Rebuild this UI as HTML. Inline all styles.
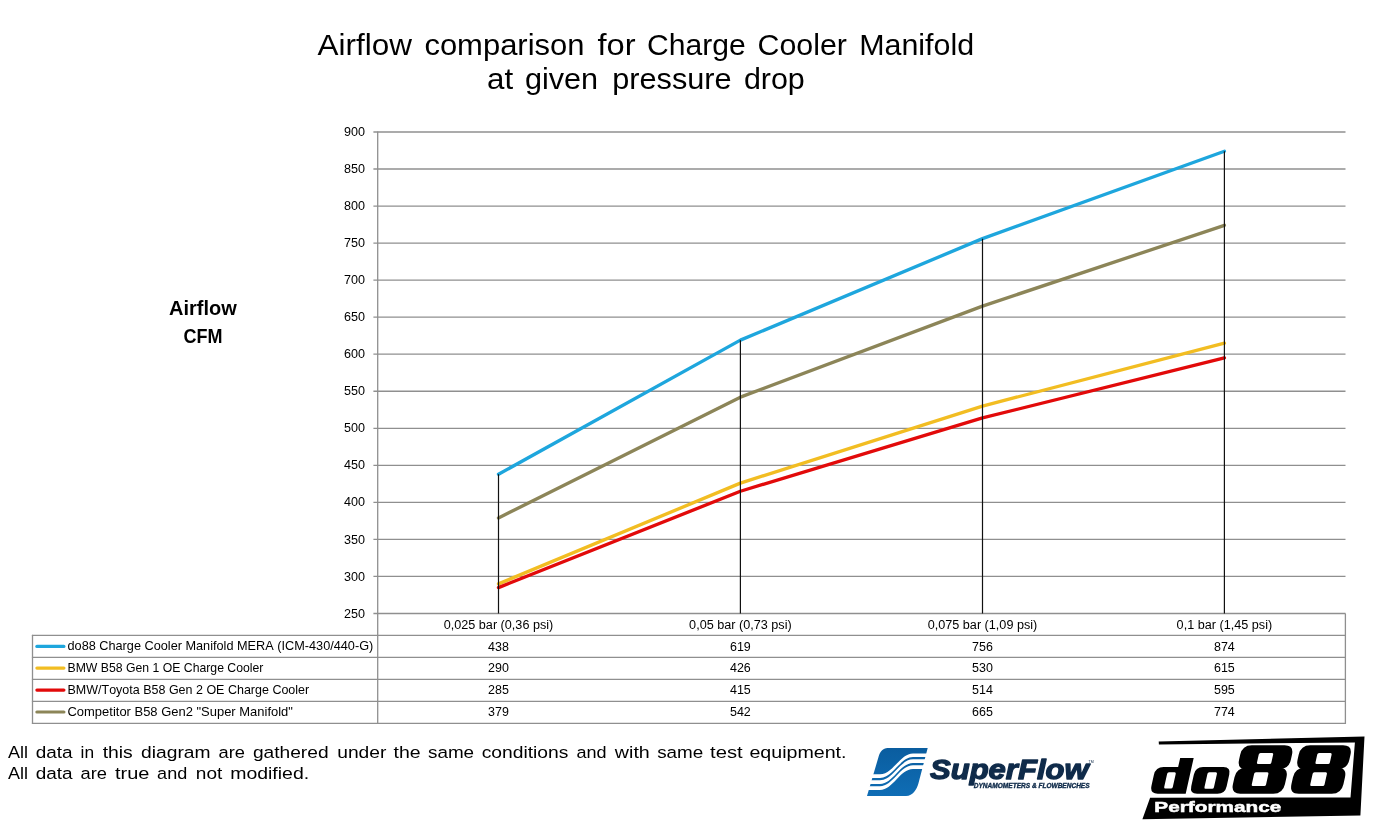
<!DOCTYPE html><html><head><meta charset="utf-8"><title>Airflow comparison</title><style>html,body{margin:0;padding:0;background:#fff;width:1382px;height:826px;overflow:hidden}svg{position:absolute;left:0;top:0;display:block;will-change:transform}text{font-family:"Liberation Sans",sans-serif;font-kerning:none;white-space:pre}</style></head><body>
<svg width="1382" height="826" viewBox="0 0 1382 826">
<text x="317.60" y="54.50" font-size="30" font-weight="normal" font-style="normal" fill="#000" textLength="94.42" lengthAdjust="spacingAndGlyphs" >Airflow</text>
<text x="424.40" y="54.50" font-size="30" font-weight="normal" font-style="normal" fill="#000" textLength="160.10" lengthAdjust="spacingAndGlyphs" >comparison</text>
<text x="597.50" y="54.50" font-size="30" font-weight="normal" font-style="normal" fill="#000" textLength="38.10" lengthAdjust="spacingAndGlyphs" >for</text>
<text x="647.10" y="54.50" font-size="30" font-weight="normal" font-style="normal" fill="#000" textLength="98.69" lengthAdjust="spacingAndGlyphs" >Charge</text>
<text x="757.50" y="54.50" font-size="30" font-weight="normal" font-style="normal" fill="#000" textLength="89.39" lengthAdjust="spacingAndGlyphs" >Cooler</text>
<text x="859.20" y="54.50" font-size="30" font-weight="normal" font-style="normal" fill="#000" textLength="114.99" lengthAdjust="spacingAndGlyphs" >Manifold</text>
<text x="487.10" y="88.90" font-size="30" font-weight="normal" font-style="normal" fill="#000" textLength="26.10" lengthAdjust="spacingAndGlyphs" >at</text>
<text x="524.90" y="88.90" font-size="30" font-weight="normal" font-style="normal" fill="#000" textLength="73.19" lengthAdjust="spacingAndGlyphs" >given</text>
<text x="612.20" y="88.90" font-size="30" font-weight="normal" font-style="normal" fill="#000" textLength="119.39" lengthAdjust="spacingAndGlyphs" >pressure</text>
<text x="743.90" y="88.90" font-size="30" font-weight="normal" font-style="normal" fill="#000" textLength="60.91" lengthAdjust="spacingAndGlyphs" >drop</text>
<text x="169.10" y="314.80" font-size="20.3" font-weight="bold" font-style="normal" fill="#000" textLength="67.75" lengthAdjust="spacingAndGlyphs" >Airflow</text>
<text x="183.50" y="342.60" font-size="20.3" font-weight="bold" font-style="normal" fill="#000" textLength="39.00" lengthAdjust="spacingAndGlyphs" >CFM</text>
<line x1="373.4" y1="613.50" x2="1345.5" y2="613.50" stroke="#8f8f8f" stroke-width="1.3"/>
<line x1="373.4" y1="576.46" x2="1345.5" y2="576.46" stroke="#8f8f8f" stroke-width="1.3"/>
<line x1="373.4" y1="539.42" x2="1345.5" y2="539.42" stroke="#8f8f8f" stroke-width="1.3"/>
<line x1="373.4" y1="502.38" x2="1345.5" y2="502.38" stroke="#8f8f8f" stroke-width="1.3"/>
<line x1="373.4" y1="465.34" x2="1345.5" y2="465.34" stroke="#8f8f8f" stroke-width="1.3"/>
<line x1="373.4" y1="428.30" x2="1345.5" y2="428.30" stroke="#8f8f8f" stroke-width="1.3"/>
<line x1="373.4" y1="391.26" x2="1345.5" y2="391.26" stroke="#8f8f8f" stroke-width="1.3"/>
<line x1="373.4" y1="354.22" x2="1345.5" y2="354.22" stroke="#8f8f8f" stroke-width="1.3"/>
<line x1="373.4" y1="317.18" x2="1345.5" y2="317.18" stroke="#8f8f8f" stroke-width="1.3"/>
<line x1="373.4" y1="280.14" x2="1345.5" y2="280.14" stroke="#8f8f8f" stroke-width="1.3"/>
<line x1="373.4" y1="243.10" x2="1345.5" y2="243.10" stroke="#8f8f8f" stroke-width="1.3"/>
<line x1="373.4" y1="206.06" x2="1345.5" y2="206.06" stroke="#8f8f8f" stroke-width="1.3"/>
<line x1="373.4" y1="169.02" x2="1345.5" y2="169.02" stroke="#8f8f8f" stroke-width="1.3"/>
<line x1="373.4" y1="131.98" x2="1345.5" y2="131.98" stroke="#8f8f8f" stroke-width="1.3"/>
<text x="344.00" y="617.60" font-size="12.5" font-weight="normal" font-style="normal" fill="#000" textLength="21.01" lengthAdjust="spacingAndGlyphs" >250</text>
<text x="344.00" y="580.56" font-size="12.5" font-weight="normal" font-style="normal" fill="#000" textLength="21.01" lengthAdjust="spacingAndGlyphs" >300</text>
<text x="344.00" y="543.52" font-size="12.5" font-weight="normal" font-style="normal" fill="#000" textLength="21.01" lengthAdjust="spacingAndGlyphs" >350</text>
<text x="344.00" y="506.48" font-size="12.5" font-weight="normal" font-style="normal" fill="#000" textLength="21.01" lengthAdjust="spacingAndGlyphs" >400</text>
<text x="344.00" y="469.44" font-size="12.5" font-weight="normal" font-style="normal" fill="#000" textLength="21.01" lengthAdjust="spacingAndGlyphs" >450</text>
<text x="344.00" y="432.40" font-size="12.5" font-weight="normal" font-style="normal" fill="#000" textLength="21.01" lengthAdjust="spacingAndGlyphs" >500</text>
<text x="344.00" y="395.36" font-size="12.5" font-weight="normal" font-style="normal" fill="#000" textLength="21.01" lengthAdjust="spacingAndGlyphs" >550</text>
<text x="344.00" y="358.32" font-size="12.5" font-weight="normal" font-style="normal" fill="#000" textLength="21.01" lengthAdjust="spacingAndGlyphs" >600</text>
<text x="344.00" y="321.28" font-size="12.5" font-weight="normal" font-style="normal" fill="#000" textLength="21.01" lengthAdjust="spacingAndGlyphs" >650</text>
<text x="344.00" y="284.24" font-size="12.5" font-weight="normal" font-style="normal" fill="#000" textLength="21.01" lengthAdjust="spacingAndGlyphs" >700</text>
<text x="344.00" y="247.20" font-size="12.5" font-weight="normal" font-style="normal" fill="#000" textLength="21.01" lengthAdjust="spacingAndGlyphs" >750</text>
<text x="344.00" y="210.16" font-size="12.5" font-weight="normal" font-style="normal" fill="#000" textLength="21.01" lengthAdjust="spacingAndGlyphs" >800</text>
<text x="344.00" y="173.12" font-size="12.5" font-weight="normal" font-style="normal" fill="#000" textLength="21.01" lengthAdjust="spacingAndGlyphs" >850</text>
<text x="344.00" y="136.08" font-size="12.5" font-weight="normal" font-style="normal" fill="#000" textLength="21.01" lengthAdjust="spacingAndGlyphs" >900</text>
<line x1="31.9" y1="635.45" x2="1346.0" y2="635.45" stroke="#8f8f8f" stroke-width="1.3"/>
<line x1="31.9" y1="657.4" x2="1346.0" y2="657.4" stroke="#8f8f8f" stroke-width="1.3"/>
<line x1="31.9" y1="679.4" x2="1346.0" y2="679.4" stroke="#8f8f8f" stroke-width="1.3"/>
<line x1="31.9" y1="701.35" x2="1346.0" y2="701.35" stroke="#8f8f8f" stroke-width="1.3"/>
<line x1="31.9" y1="723.3" x2="1346.0" y2="723.3" stroke="#8f8f8f" stroke-width="1.3"/>
<line x1="32.5" y1="634.85" x2="32.5" y2="723.9" stroke="#8f8f8f" stroke-width="1.3"/>
<line x1="377.7" y1="131.5" x2="377.7" y2="723.9" stroke="#8f8f8f" stroke-width="1.3"/>
<line x1="1345.4" y1="613.5" x2="1345.4" y2="723.9" stroke="#8f8f8f" stroke-width="1.3"/>
<polyline points="498.50,474.23 740.40,340.14 982.50,238.66 1224.40,151.24" fill="none" stroke="#1ea6dd" stroke-width="3.35" stroke-linejoin="round" stroke-linecap="round"/>
<polyline points="498.50,583.87 740.40,483.12 982.50,406.08 1224.40,343.11" fill="none" stroke="#f2bd22" stroke-width="3.35" stroke-linejoin="round" stroke-linecap="round"/>
<polyline points="498.50,587.57 740.40,491.27 982.50,417.93 1224.40,357.92" fill="none" stroke="#e20a0a" stroke-width="3.35" stroke-linejoin="round" stroke-linecap="round"/>
<polyline points="498.50,517.94 740.40,397.19 982.50,306.07 1224.40,225.32" fill="none" stroke="#8c8558" stroke-width="3.35" stroke-linejoin="round" stroke-linecap="round"/>
<line x1="498.5" y1="474.23" x2="498.5" y2="613.5" stroke="#111" stroke-width="1.2"/>
<line x1="740.4" y1="340.14" x2="740.4" y2="613.5" stroke="#111" stroke-width="1.2"/>
<line x1="982.5" y1="238.66" x2="982.5" y2="613.5" stroke="#111" stroke-width="1.2"/>
<line x1="1224.4" y1="151.24" x2="1224.4" y2="613.5" stroke="#111" stroke-width="1.2"/>
<text x="443.70" y="628.60" font-size="12" font-weight="normal" font-style="normal" fill="#000" textLength="109.60" lengthAdjust="spacingAndGlyphs" >0,025 bar (0,36 psi)</text>
<text x="689.11" y="628.60" font-size="12" font-weight="normal" font-style="normal" fill="#000" textLength="102.57" lengthAdjust="spacingAndGlyphs" >0,05 bar (0,73 psi)</text>
<text x="927.70" y="628.60" font-size="12" font-weight="normal" font-style="normal" fill="#000" textLength="109.60" lengthAdjust="spacingAndGlyphs" >0,075 bar (1,09 psi)</text>
<text x="1176.63" y="628.60" font-size="12" font-weight="normal" font-style="normal" fill="#000" textLength="95.54" lengthAdjust="spacingAndGlyphs" >0,1 bar (1,45 psi)</text>
<line x1="36.9" y1="646.45" x2="63.9" y2="646.45" stroke="#1ea6dd" stroke-width="3.2" stroke-linecap="round"/>
<text x="67.50" y="650.10" font-size="12.8" font-weight="normal" font-style="normal" fill="#000" textLength="305.80" lengthAdjust="spacingAndGlyphs" >do88 Charge Cooler Manifold MERA (ICM-430/440-G)</text>
<text x="488.10" y="650.65" font-size="12.3" font-weight="normal" font-style="normal" fill="#000" textLength="20.81" lengthAdjust="spacingAndGlyphs" >438</text>
<text x="730.00" y="650.65" font-size="12.3" font-weight="normal" font-style="normal" fill="#000" textLength="20.81" lengthAdjust="spacingAndGlyphs" >619</text>
<text x="972.10" y="650.65" font-size="12.3" font-weight="normal" font-style="normal" fill="#000" textLength="20.81" lengthAdjust="spacingAndGlyphs" >756</text>
<text x="1214.00" y="650.65" font-size="12.3" font-weight="normal" font-style="normal" fill="#000" textLength="20.81" lengthAdjust="spacingAndGlyphs" >874</text>
<line x1="36.9" y1="668.05" x2="63.9" y2="668.05" stroke="#f2bd22" stroke-width="3.2" stroke-linecap="round"/>
<text x="67.50" y="671.80" font-size="12.8" font-weight="normal" font-style="normal" fill="#000" textLength="195.90" lengthAdjust="spacingAndGlyphs" >BMW B58 Gen 1 OE Charge Cooler</text>
<text x="488.10" y="672.45" font-size="12.3" font-weight="normal" font-style="normal" fill="#000" textLength="20.81" lengthAdjust="spacingAndGlyphs" >290</text>
<text x="730.00" y="672.45" font-size="12.3" font-weight="normal" font-style="normal" fill="#000" textLength="20.81" lengthAdjust="spacingAndGlyphs" >426</text>
<text x="972.10" y="672.45" font-size="12.3" font-weight="normal" font-style="normal" fill="#000" textLength="20.81" lengthAdjust="spacingAndGlyphs" >530</text>
<text x="1214.00" y="672.45" font-size="12.3" font-weight="normal" font-style="normal" fill="#000" textLength="20.81" lengthAdjust="spacingAndGlyphs" >615</text>
<line x1="36.9" y1="690.10" x2="63.9" y2="690.10" stroke="#e20a0a" stroke-width="3.2" stroke-linecap="round"/>
<text x="67.50" y="693.80" font-size="12.8" font-weight="normal" font-style="normal" fill="#000" textLength="241.70" lengthAdjust="spacingAndGlyphs" >BMW/Toyota B58 Gen 2 OE Charge Cooler</text>
<text x="488.10" y="694.35" font-size="12.3" font-weight="normal" font-style="normal" fill="#000" textLength="20.81" lengthAdjust="spacingAndGlyphs" >285</text>
<text x="730.00" y="694.35" font-size="12.3" font-weight="normal" font-style="normal" fill="#000" textLength="20.81" lengthAdjust="spacingAndGlyphs" >415</text>
<text x="972.10" y="694.35" font-size="12.3" font-weight="normal" font-style="normal" fill="#000" textLength="20.81" lengthAdjust="spacingAndGlyphs" >514</text>
<text x="1214.00" y="694.35" font-size="12.3" font-weight="normal" font-style="normal" fill="#000" textLength="20.81" lengthAdjust="spacingAndGlyphs" >595</text>
<line x1="36.9" y1="712.00" x2="63.9" y2="712.00" stroke="#8c8558" stroke-width="3.2" stroke-linecap="round"/>
<text x="67.50" y="715.70" font-size="12.8" font-weight="normal" font-style="normal" fill="#000" textLength="225.40" lengthAdjust="spacingAndGlyphs" >Competitor B58 Gen2 &quot;Super Manifold&quot;</text>
<text x="488.10" y="716.25" font-size="12.3" font-weight="normal" font-style="normal" fill="#000" textLength="20.81" lengthAdjust="spacingAndGlyphs" >379</text>
<text x="730.00" y="716.25" font-size="12.3" font-weight="normal" font-style="normal" fill="#000" textLength="20.81" lengthAdjust="spacingAndGlyphs" >542</text>
<text x="972.10" y="716.25" font-size="12.3" font-weight="normal" font-style="normal" fill="#000" textLength="20.81" lengthAdjust="spacingAndGlyphs" >665</text>
<text x="1214.00" y="716.25" font-size="12.3" font-weight="normal" font-style="normal" fill="#000" textLength="20.81" lengthAdjust="spacingAndGlyphs" >774</text>
<text x="8.00" y="757.90" font-size="17.4" font-weight="normal" font-style="normal" fill="#000" textLength="20.01" lengthAdjust="spacingAndGlyphs" >All</text>
<text x="35.70" y="757.90" font-size="17.4" font-weight="normal" font-style="normal" fill="#000" textLength="36.89" lengthAdjust="spacingAndGlyphs" >data</text>
<text x="80.60" y="757.90" font-size="17.4" font-weight="normal" font-style="normal" fill="#000" textLength="13.51" lengthAdjust="spacingAndGlyphs" >in</text>
<text x="102.70" y="757.90" font-size="17.4" font-weight="normal" font-style="normal" fill="#000" textLength="30.10" lengthAdjust="spacingAndGlyphs" >this</text>
<text x="141.10" y="757.90" font-size="17.4" font-weight="normal" font-style="normal" fill="#000" textLength="69.50" lengthAdjust="spacingAndGlyphs" >diagram</text>
<text x="218.60" y="757.90" font-size="17.4" font-weight="normal" font-style="normal" fill="#000" textLength="26.41" lengthAdjust="spacingAndGlyphs" >are</text>
<text x="252.90" y="757.90" font-size="17.4" font-weight="normal" font-style="normal" fill="#000" textLength="75.70" lengthAdjust="spacingAndGlyphs" >gathered</text>
<text x="337.20" y="757.90" font-size="17.4" font-weight="normal" font-style="normal" fill="#000" textLength="49.19" lengthAdjust="spacingAndGlyphs" >under</text>
<text x="393.50" y="757.90" font-size="17.4" font-weight="normal" font-style="normal" fill="#000" textLength="27.10" lengthAdjust="spacingAndGlyphs" >the</text>
<text x="428.00" y="757.90" font-size="17.4" font-weight="normal" font-style="normal" fill="#000" textLength="46.11" lengthAdjust="spacingAndGlyphs" >same</text>
<text x="481.70" y="757.90" font-size="17.4" font-weight="normal" font-style="normal" fill="#000" textLength="86.70" lengthAdjust="spacingAndGlyphs" >conditions</text>
<text x="576.40" y="757.90" font-size="17.4" font-weight="normal" font-style="normal" fill="#000" textLength="30.11" lengthAdjust="spacingAndGlyphs" >and</text>
<text x="614.84" y="757.90" font-size="17.4" font-weight="normal" font-style="normal" fill="#000" textLength="34.97" lengthAdjust="spacingAndGlyphs" >with</text>
<text x="657.20" y="757.90" font-size="17.4" font-weight="normal" font-style="normal" fill="#000" textLength="46.11" lengthAdjust="spacingAndGlyphs" >same</text>
<text x="710.10" y="757.90" font-size="17.4" font-weight="normal" font-style="normal" fill="#000" textLength="32.60" lengthAdjust="spacingAndGlyphs" >test</text>
<text x="749.40" y="757.90" font-size="17.4" font-weight="normal" font-style="normal" fill="#000" textLength="97.10" lengthAdjust="spacingAndGlyphs" >equipment.</text>
<text x="8.00" y="778.70" font-size="17.4" font-weight="normal" font-style="normal" fill="#000" textLength="20.01" lengthAdjust="spacingAndGlyphs" >All</text>
<text x="35.70" y="778.70" font-size="17.4" font-weight="normal" font-style="normal" fill="#000" textLength="36.89" lengthAdjust="spacingAndGlyphs" >data</text>
<text x="80.60" y="778.70" font-size="17.4" font-weight="normal" font-style="normal" fill="#000" textLength="26.41" lengthAdjust="spacingAndGlyphs" >are</text>
<text x="115.00" y="778.70" font-size="17.4" font-weight="normal" font-style="normal" fill="#000" textLength="34.40" lengthAdjust="spacingAndGlyphs" >true</text>
<text x="157.10" y="778.70" font-size="17.4" font-weight="normal" font-style="normal" fill="#000" textLength="30.11" lengthAdjust="spacingAndGlyphs" >and</text>
<text x="195.80" y="778.70" font-size="17.4" font-weight="normal" font-style="normal" fill="#000" textLength="26.50" lengthAdjust="spacingAndGlyphs" >not</text>
<text x="230.20" y="778.70" font-size="17.4" font-weight="normal" font-style="normal" fill="#000" textLength="78.99" lengthAdjust="spacingAndGlyphs" >modified.</text>
<defs><linearGradient id="sfg" x1="0" y1="0" x2="0" y2="1"><stop offset="0" stop-color="#0a5d9f"/><stop offset="1" stop-color="#0f6db5"/></linearGradient></defs>
<path d="M887.6,748 L927.7,748 L918.4,783.5 C917,789 913,796 906,796 L867,796 L878.5,757 C880,751.5 883,748 887.6,748 Z" fill="url(#sfg)"/>
<path d="M860,774.30 L880,774.30 C893,774.30 900,753.40 913,753.40 L928.5,753.40 L928.5,757.10 L913,757.10 C900,757.10 893,778.00 880,778.00 L860,778.00 Z" fill="#fff"/>
<path d="M860,780.25 L880,780.25 C893,780.25 900,759.35 913,759.35 L928.5,759.35 L928.5,763.05 L913,763.05 C900,763.05 893,783.95 880,783.95 L860,783.95 Z" fill="#fff"/>
<path d="M860,786.20 L880,786.20 C893,786.20 900,765.30 913,765.30 L928.5,765.30 L928.5,769.00 L913,769.00 C900,769.00 893,789.90 880,789.90 L860,789.90 Z" fill="#fff"/>
<text x="930.00" y="779.30" font-size="28.2" font-weight="bold" font-style="italic" fill="#0f2b4a" textLength="158.60" lengthAdjust="spacingAndGlyphs" stroke="#0f2b4a" stroke-width="1.3" stroke-linejoin="round">SuperFlow</text>
<text x="1088.6" y="763.2" font-size="3.6" fill="#0f2b4a">TM</text>
<text x="973.80" y="787.60" font-size="6.4" font-weight="bold" font-style="italic" fill="#0f2b4a" textLength="115.80" lengthAdjust="spacingAndGlyphs" stroke="#0f2b4a" stroke-width="0.35">DYNAMOMETERS &amp; FLOWBENCHES</text>
<path d="M1158.7,741.5 L1364.5,736.4 L1360.4,815.5 L1142.4,819.2 L1150.1,797.7 L1350.5,797.4 L1354.9,742.4 L1158.9,744.6 Z" fill="#000"/>
<g transform="matrix(1,0,-0.223,1,176.995,0)">
<path d="M1157.7,767.1 L1172.2,767.1 L1172.2,757.9 L1185.7,757.9 L1185.7,793.7 L1157.7,793.7 Q1149.7,793.7 1149.7,785.7 L1149.7,775.1 Q1149.7,767.1 1157.7,767.1 Z" fill="#000"/>
<path d="M1197.10,767.10 L1217.50,767.10 Q1225.00,767.10 1225.00,774.60 L1225.00,786.20 Q1225.00,793.70 1217.50,793.70 L1197.10,793.70 Q1189.60,793.70 1189.60,786.20 L1189.60,774.60 Q1189.60,767.10 1197.10,767.10 Z" fill="#000"/>
<path d="M1241.00,745.30 L1273.80,745.30 Q1283.30,745.30 1283.30,754.80 L1283.30,759.80 Q1283.30,769.30 1273.80,769.30 L1241.00,769.30 Q1231.50,769.30 1231.50,759.80 L1231.50,754.80 Q1231.50,745.30 1241.00,745.30 Z" fill="#000"/>
<path d="M1240.30,767.70 L1273.30,767.70 Q1282.80,767.70 1282.80,777.20 L1282.80,784.20 Q1282.80,793.70 1273.30,793.70 L1240.30,793.70 Q1230.80,793.70 1230.80,784.20 L1230.80,777.20 Q1230.80,767.70 1240.30,767.70 Z" fill="#000"/>
<path d="M1299.50,745.30 L1332.30,745.30 Q1341.80,745.30 1341.80,754.80 L1341.80,759.80 Q1341.80,769.30 1332.30,769.30 L1299.50,769.30 Q1290.00,769.30 1290.00,759.80 L1290.00,754.80 Q1290.00,745.30 1299.50,745.30 Z" fill="#000"/>
<path d="M1298.80,767.70 L1331.80,767.70 Q1341.30,767.70 1341.30,777.20 L1341.30,784.20 Q1341.30,793.70 1331.80,793.70 L1298.80,793.70 Q1289.30,793.70 1289.30,784.20 L1289.30,777.20 Q1289.30,767.70 1298.80,767.70 Z" fill="#000"/>
<path d="M1164.20,772.20 L1169.80,772.20 Q1171.30,772.20 1171.30,773.70 L1171.30,787.00 Q1171.30,788.50 1169.80,788.50 L1164.20,788.50 Q1162.70,788.50 1162.70,787.00 L1162.70,773.70 Q1162.70,772.20 1164.20,772.20 Z" fill="#fff"/>
<path d="M1204.50,772.20 L1211.00,772.20 Q1212.50,772.20 1212.50,773.70 L1212.50,787.20 Q1212.50,788.70 1211.00,788.70 L1204.50,788.70 Q1203.00,788.70 1203.00,787.20 L1203.00,773.70 Q1203.00,772.20 1204.50,772.20 Z" fill="#fff"/>
<path d="M1251.50,753.00 L1262.90,753.00 Q1264.40,753.00 1264.40,754.50 L1264.40,762.40 Q1264.40,763.90 1262.90,763.90 L1251.50,763.90 Q1250.00,763.90 1250.00,762.40 L1250.00,754.50 Q1250.00,753.00 1251.50,753.00 Z" fill="#fff"/>
<path d="M1251.20,772.30 L1262.50,772.30 Q1264.00,772.30 1264.00,773.80 L1264.00,784.50 Q1264.00,786.00 1262.50,786.00 L1251.20,786.00 Q1249.70,786.00 1249.70,784.50 L1249.70,773.80 Q1249.70,772.30 1251.20,772.30 Z" fill="#fff"/>
<path d="M1310.00,753.00 L1321.40,753.00 Q1322.90,753.00 1322.90,754.50 L1322.90,762.40 Q1322.90,763.90 1321.40,763.90 L1310.00,763.90 Q1308.50,763.90 1308.50,762.40 L1308.50,754.50 Q1308.50,753.00 1310.00,753.00 Z" fill="#fff"/>
<path d="M1309.70,772.30 L1321.00,772.30 Q1322.50,772.30 1322.50,773.80 L1322.50,784.50 Q1322.50,786.00 1321.00,786.00 L1309.70,786.00 Q1308.20,786.00 1308.20,784.50 L1308.20,773.80 Q1308.20,772.30 1309.70,772.30 Z" fill="#fff"/>
</g>
<text x="1154.30" y="811.80" font-size="15.2" font-weight="bold" font-style="normal" fill="#fff" textLength="127.00" lengthAdjust="spacingAndGlyphs" stroke="#fff" stroke-width="0.5">Performance</text>
</svg></body></html>
